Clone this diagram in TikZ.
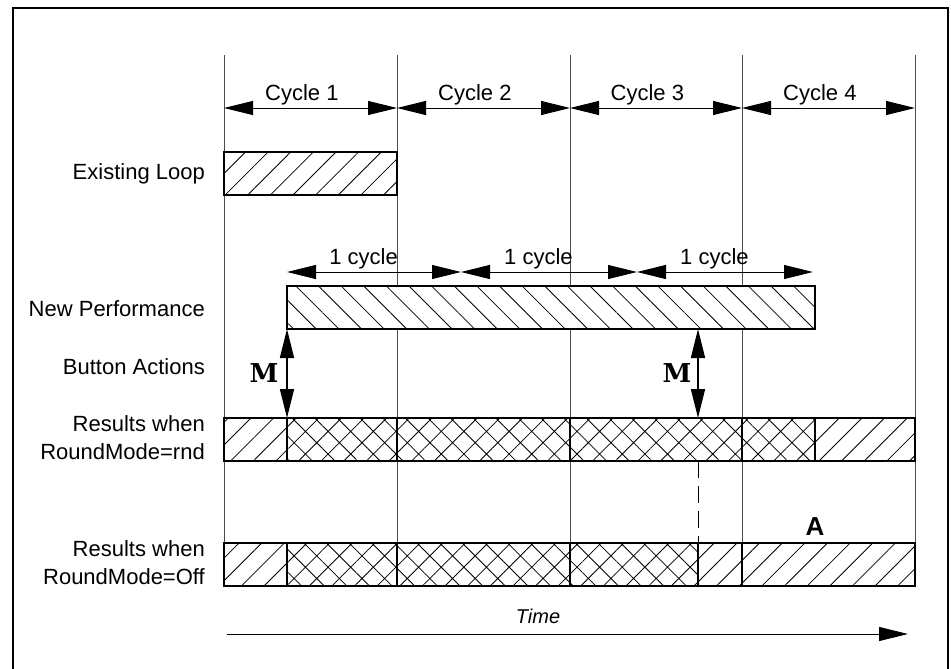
\documentclass[tikz,border=0pt]{standalone}
\usepackage{fontspec}
\setmainfont{Liberation Sans}
\newfontfamily\mfont{DejaVu Serif}
\usetikzlibrary{arrows.meta,patterns.meta}
\tikzset{
  tri/.tip={Triangle[length=29pt,width=14pt]},
  gridline/.style={line width=1pt,black!70},
  barbox/.style={line width=2.5pt,fill=white},
  fwd/.style={pattern={Lines[angle=45,distance=16pt,line width=0.8pt]}},
  bwd/.style={pattern={Lines[angle=-45,distance=16pt,line width=0.8pt]}},
  xhatch/.style={pattern={Hatch[angle=45,distance=16pt,line width=0.8pt]}},
  dim/.style={line width=1pt,tri-tri},
  lbl/.style={anchor=east,align=right,font=\fontsize{22}{28}\selectfont,inner sep=0pt},
  toplbl/.style={anchor=base,font=\fontsize{22}{26}\selectfont,inner sep=0pt},
  mlbl/.style={font=\mfont\bfseries\fontsize{26}{26}\selectfont,inner sep=0pt},
}
\newcommand{\seg}[4]{% x1 x2 y-top style
  \path[barbox] (#1,#3) rectangle (#2,#3+43);
  \path[#4] (#1,#3) rectangle (#2,#3+43);
  \draw[line width=2.5pt] (#1,#3) rectangle (#2,#3+43);
}
\begin{document}
\begin{tikzpicture}[x=1pt,y=-1pt]
\useasboundingbox (0,0) rectangle (951,669);
% frame
\draw[line width=2.5pt] (13,669) -- (13,8) -- (948,8) -- (948,669);
% column coordinates
\foreach \n/\x in {0/224,1/397,2/570,3/742,4/915}{
  \coordinate (t\n) at (\x,55);
  \coordinate (b\n) at (\x,543);
  \coordinate (a\n) at (\x,108);
}
\foreach \n in {0,...,4}{\draw[gridline] (t\n) -- (b\n);}
% cycle dimension arrows
\draw[dim] (a0) -- node[toplbl,pos=0.45,above=2pt]{Cycle 1} (a1);
\draw[dim] (a1) -- node[toplbl,pos=0.45,above=2pt]{Cycle 2} (a2);
\draw[dim] (a2) -- node[toplbl,pos=0.45,above=2pt]{Cycle 3} (a3);
\draw[dim] (a3) -- node[toplbl,pos=0.45,above=2pt]{Cycle 4} (a4);
% labels
\node[lbl] (l1) at (205,174) {Existing Loop};
\node[lbl] (l2) at (205,309) {New Performance};
\node[lbl] (l3) at (205,367) {Button Actions};
\node[lbl] (l4) at (205,438) {Results when\\RoundMode=rnd};
\node[lbl] (l5) at (205,563) {Results when\\RoundMode=Off};
% existing loop
\seg{224}{397}{152}{fwd}
% new performance
\seg{287}{815}{286}{bwd}
\coordinate (np1) at (287,272);
\coordinate (np2) at (461,272);
\coordinate (np3) at (637,272);
\coordinate (np4) at (813,272);
\draw[dim] (np1) -- node[toplbl,pos=0.44,above=2pt]{1 cycle} (np2);
\draw[dim] (np2) -- node[toplbl,pos=0.44,above=2pt]{1 cycle} (np3);
\draw[dim] (np3) -- node[toplbl,pos=0.44,above=2pt]{1 cycle} (np4);
% rnd row
\seg{224}{287}{418}{fwd}
\seg{287}{397}{418}{xhatch}
\seg{397}{570}{418}{xhatch}
\seg{570}{742}{418}{xhatch}
\seg{742}{815}{418}{xhatch}
\seg{815}{915}{418}{fwd}
% off row
\seg{224}{287}{543}{fwd}
\seg{287}{397}{543}{xhatch}
\seg{397}{570}{543}{xhatch}
\seg{570}{698}{543}{xhatch}
\seg{698}{742}{543}{fwd}
\seg{742}{915}{543}{fwd}
% M arrows
\coordinate (m1a) at (287,329);
\coordinate (m1b) at (287,418);
\coordinate (m2a) at (698,329);
\coordinate (m2b) at (698,418);
\draw[dim,line width=1.5pt] (m1a) -- (m1b);
\draw[dim,line width=1.5pt] (m2a) -- (m2b);
\node[mlbl] (m1) at (264,373) {M};
\node[mlbl] (m2) at (677,373) {M};
% dashed marker
\coordinate (d1) at (698,461);
\coordinate (d2) at (698,543);
\draw[line width=1pt,dash pattern=on 17pt off 8pt] (d1) -- (d2);
% A
\node[font=\bfseries\fontsize{26}{26}\selectfont,inner sep=0pt] (A) at (815,527) {A};
% time axis
\coordinate (ts) at (227,634);
\coordinate (te) at (908,634);
\draw[line width=1pt,-tri] (ts) -- (te);
\node[font=\itshape\fontsize{20}{20}\selectfont,inner sep=0pt] (time) at (538,616) {Time};
\end{tikzpicture}
\end{document}
